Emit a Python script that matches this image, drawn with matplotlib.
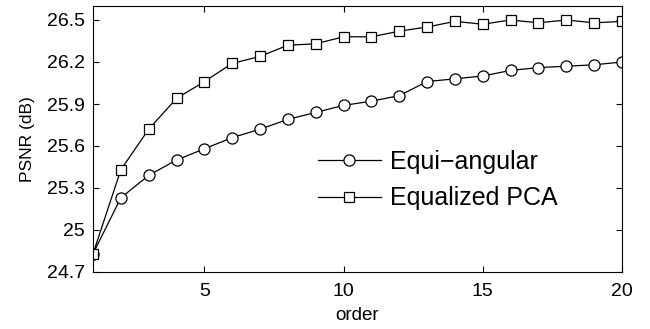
import numpy as np
import matplotlib.pyplot as plt

plt.rcParams['font.family'] = ['Liberation Sans', 'DejaVu Sans']

# PSNR values per order
order = np.arange(1, 21)
equi_angular = [24.83, 25.23, 25.39, 25.50, 25.58, 25.66, 25.72, 25.79, 25.84, 25.89,
                25.92, 25.96, 26.06, 26.08, 26.10, 26.14, 26.16, 26.17, 26.18, 26.20]
equalized_pca = [24.83, 25.43, 25.72, 25.94, 26.06, 26.19, 26.24, 26.32, 26.33, 26.38,
                 26.38, 26.42, 26.45, 26.49, 26.47, 26.50, 26.48, 26.50, 26.48, 26.49]

fig = plt.figure(figsize=(6.5, 3.29), dpi=100)
ax = fig.add_axes([93/650, 1 - 272/329, (622-93)/650, (272-6)/329])

ax.plot(order, equi_angular, '-o', color='black', lw=0.9, ms=8,
        mfc='white', mew=0.9, label='Equi\u2212angular')
ax.plot(order, equalized_pca, '-s', color='black', lw=0.9, ms=6.5,
        mfc='white', mew=0.9, label='Equalized PCA')

ax.set_xlim(1, 20)
ax.set_ylim(24.7, 26.6)
ax.set_xticks([5, 10, 15, 20])
ax.set_yticks([24.7, 25, 25.3, 25.6, 25.9, 26.2, 26.5])
ax.set_yticklabels(['24.7', '25', '25.3', '25.6', '25.9', '26.2', '26.5'])
ax.tick_params(direction='in', top=True, right=True, labelsize=14, length=4, width=0.8)
ax.tick_params(axis='x', pad=8)
ax.tick_params(axis='y', pad=6)
for s in ax.spines.values():
    s.set_linewidth(0.8)

ax.set_xlabel('order', fontsize=13.5, labelpad=5)
ax.set_ylabel('PSNR (dB)', fontsize=12.5, labelpad=8)

ax.legend(loc='upper left', bbox_to_anchor=(318/650, 1 - 150/329),
          bbox_transform=fig.transFigure, frameon=False,
          fontsize=18, handlelength=2.5, handletextpad=0.4, labelspacing=0.5,
          borderpad=0, borderaxespad=0)

fig.savefig('out.png', dpi=100)
